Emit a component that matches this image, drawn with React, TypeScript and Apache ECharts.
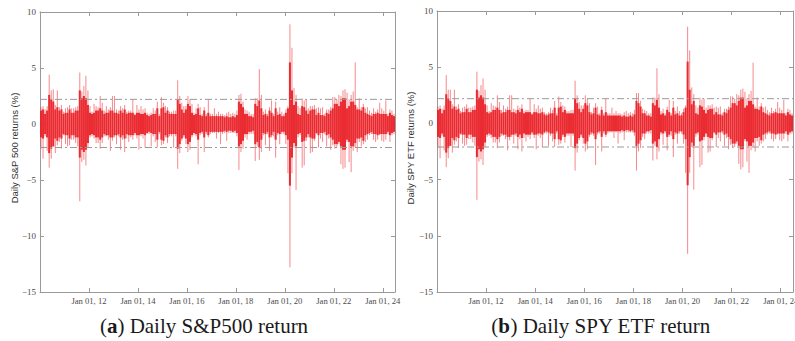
import React, { useEffect, useRef } from "react";
import * as echarts from "echarts";

// Monthly envelope of daily returns (%), Jan 2010 .. Jun 2024
const START_YEAR = 2010;
const END_YEAR = 2024.5;
const xTickInterval = 2;
const yMin = -15;
const yMax = 10;
const yInterval = 5;
const bandUpper = 2.2;
const bandLower = -2.1;

const spxHi = [
  1.5, 1.6, 1.3, 1.6, 4.4, 3.0, 3.1, 1.7, 3.0, 1.5, 1.7, 1.1,
  1.4, 1.5, 1.7, 1.4, 1.4, 1.5, 1.6, 4.6, 2.9, 3.4, 4.3, 3.0,
  1.6, 1.1, 1.8, 1.6, 1.5, 2.5, 1.9, 1.2, 1.6, 1.3, 1.5, 2.5,
  2.5, 1.3, 1.2, 1.6, 1.4, 1.7, 1.1, 1.2, 1.2, 2.2, 0.9, 1.7,
  1.3, 1.6, 1.3, 1.4, 1.0, 0.9, 1.0, 1.4, 1.2, 2.0, 0.9, 2.4,
  1.9, 1.6, 1.5, 1.1, 1.1, 1.2, 1.2, 3.9, 2.5, 1.9, 1.6, 1.6,
  2.5, 2.2, 1.8, 1.0, 1.4, 1.8, 1.5, 0.9, 1.5, 0.9, 2.2, 0.9,
  0.9, 1.4, 0.9, 1.1, 0.9, 0.9, 0.8, 1.0, 1.1, 0.9, 1.0, 0.9,
  1.2, 2.6, 2.7, 2.0, 1.3, 1.2, 1.1, 0.9, 0.9, 2.3, 2.3, 4.9,
  2.6, 1.1, 1.3, 0.9, 1.5, 2.1, 0.9, 2.0, 1.1, 1.5, 1.1, 0.9,
  1.3, 1.6, 8.9, 6.8, 3.2, 2.6, 1.6, 1.4, 2.3, 2.1, 2.2, 1.4,
  1.6, 1.6, 1.7, 1.4, 1.5, 1.4, 1.5, 0.9, 1.3, 1.3, 1.5, 2.4,
  2.4, 2.2, 2.6, 2.5, 3.0, 3.1, 2.8, 2.2, 2.6, 2.9, 5.5, 1.5,
  2.3, 1.5, 1.8, 1.4, 1.5, 1.2, 1.0, 1.4, 1.1, 1.3, 1.9, 1.4,
  1.2, 2.1, 0.9, 1.3, 1.2, 0.9,
];
const spxLo = [
  -2.2, -3.1, -1.1, -2.4, -3.9, -3.1, -2.0, -2.6, -1.9, -1.6, -2.2, -1.0,
  -1.8, -2.0, -1.9, -1.4, -1.4, -1.7, -2.0, -6.9, -3.4, -3.2, -3.7, -2.1,
  -1.2, -1.1, -1.3, -1.7, -1.7, -2.2, -1.7, -1.1, -1.1, -1.4, -2.4, -1.5,
  -1.2, -1.8, -1.1, -2.3, -1.4, -2.5, -1.3, -1.6, -1.2, -1.4, -1.0, -1.3,
  -2.3, -1.1, -1.3, -2.1, -0.9, -0.9, -2.0, -1.1, -1.6, -2.1, -0.9, -1.9,
  -1.8, -1.2, -1.7, -1.1, -1.1, -2.1, -1.1, -4.0, -2.6, -1.5, -1.2, -1.8,
  -2.5, -2.3, -1.2, -1.0, -1.1, -3.6, -1.0, -0.9, -2.5, -0.9, -1.2, -0.9,
  -0.8, -0.8, -1.3, -0.8, -1.8, -0.9, -0.8, -1.5, -0.8, -0.8, -0.8, -0.8,
  -1.1, -4.1, -2.5, -2.2, -1.2, -1.4, -0.9, -0.9, -0.9, -3.3, -2.0, -3.2,
  -2.5, -1.0, -1.9, -0.9, -2.4, -1.2, -1.1, -3.0, -1.0, -1.8, -0.9, -0.9,
  -1.8, -4.4, -12.8, -4.4, -2.1, -5.9, -1.2, -1.0, -3.9, -3.7, -1.5, -1.2,
  -2.6, -2.5, -1.5, -0.9, -2.1, -1.3, -1.6, -0.9, -2.0, -1.3, -2.3, -1.9,
  -2.2, -2.1, -1.8, -3.6, -4.0, -3.9, -1.6, -3.4, -4.3, -2.4, -2.1, -2.5,
  -1.6, -2.0, -1.8, -1.6, -1.4, -1.0, -0.9, -1.4, -1.6, -1.4, -1.0, -1.5,
  -1.6, -1.4, -0.9, -1.6, -1.0, -0.9,
];
const spxCore = [
  1.2, 1.3, 0.9, 1.2, 2.6, 2.2, 2.0, 1.3, 1.5, 1.2, 1.3, 0.9,
  1.0, 1.0, 1.3, 1.0, 1.0, 1.2, 1.2, 3.0, 2.3, 2.5, 2.3, 1.7,
  1.0, 0.9, 1.0, 1.2, 1.2, 1.4, 1.2, 0.9, 1.0, 1.0, 1.2, 1.2,
  1.0, 1.0, 0.9, 1.2, 1.0, 1.3, 0.9, 1.0, 1.0, 1.0, 0.8, 1.0,
  1.0, 0.9, 0.9, 1.0, 0.8, 0.7, 0.8, 0.9, 0.9, 1.4, 0.7, 1.4,
  1.5, 1.0, 1.2, 0.9, 0.9, 0.9, 0.9, 2.2, 1.8, 1.3, 1.0, 1.3,
  1.8, 1.6, 1.0, 0.8, 0.9, 1.4, 0.8, 0.7, 1.2, 0.7, 1.0, 0.7,
  0.7, 0.7, 0.7, 0.7, 0.7, 0.7, 0.6, 0.7, 0.6, 0.6, 0.7, 0.6,
  0.8, 2.0, 1.8, 1.5, 0.9, 0.9, 0.7, 0.7, 0.6, 1.8, 1.6, 2.1,
  1.4, 0.8, 0.9, 0.7, 1.2, 1.0, 0.7, 1.4, 0.8, 0.9, 0.7, 0.7,
  1.0, 1.4, 5.5, 3.0, 1.7, 2.0, 0.9, 0.8, 1.6, 1.5, 1.2, 0.9,
  1.2, 1.3, 1.3, 0.8, 1.0, 0.8, 0.8, 0.7, 1.0, 0.9, 1.2, 1.4,
  1.8, 1.8, 1.6, 2.0, 2.3, 2.3, 1.4, 1.6, 2.0, 2.0, 1.7, 1.3,
  1.3, 1.2, 1.5, 1.0, 0.9, 0.8, 0.7, 0.9, 0.9, 1.0, 0.9, 0.9,
  0.9, 0.9, 0.7, 1.0, 0.8, 0.7,
];

const spyHi = [
  1.5, 1.6, 1.3, 1.6, 4.3, 3.0, 3.0, 1.7, 3.0, 1.5, 1.7, 1.1,
  1.4, 1.5, 1.7, 1.4, 1.4, 1.5, 1.6, 4.6, 2.9, 3.4, 4.0, 3.0,
  1.6, 1.1, 1.8, 1.6, 1.5, 2.5, 1.9, 1.2, 1.6, 1.3, 1.5, 2.5,
  2.5, 1.3, 1.2, 1.6, 1.4, 1.7, 1.1, 1.2, 1.2, 2.2, 0.9, 1.7,
  1.3, 1.6, 1.3, 1.4, 1.0, 0.9, 1.0, 1.4, 1.2, 2.0, 0.9, 2.4,
  1.9, 1.6, 1.5, 1.1, 1.1, 1.2, 1.2, 3.8, 2.5, 1.9, 1.6, 1.6,
  2.5, 2.2, 1.8, 1.0, 1.4, 1.8, 1.5, 0.9, 1.5, 0.9, 2.2, 0.9,
  0.9, 1.4, 0.9, 1.1, 0.9, 0.9, 0.8, 1.0, 1.1, 0.9, 1.0, 0.9,
  1.2, 2.7, 2.7, 2.0, 1.3, 1.2, 1.1, 0.9, 0.9, 2.3, 2.3, 4.9,
  2.6, 1.1, 1.3, 0.9, 1.5, 2.1, 0.9, 2.0, 1.1, 1.5, 1.1, 0.9,
  1.3, 1.6, 8.6, 6.5, 3.2, 2.6, 1.6, 1.4, 2.3, 2.1, 2.2, 1.4,
  1.6, 1.6, 1.7, 1.4, 1.5, 1.4, 1.5, 0.9, 1.3, 1.3, 1.5, 2.4,
  2.4, 2.2, 2.6, 2.5, 3.0, 3.1, 2.8, 2.2, 2.6, 2.9, 5.4, 1.5,
  2.3, 1.5, 1.8, 1.4, 1.5, 1.2, 1.0, 1.4, 1.1, 1.3, 1.9, 1.4,
  1.2, 2.1, 0.9, 1.3, 1.2, 0.9,
];
const spyLo = [
  -2.2, -3.1, -1.1, -2.4, -3.9, -3.1, -2.0, -2.6, -1.9, -1.6, -2.2, -1.0,
  -1.8, -2.0, -1.9, -1.4, -1.4, -1.7, -2.0, -6.8, -3.4, -3.2, -3.7, -2.1,
  -1.2, -1.1, -1.3, -1.7, -1.7, -2.2, -1.7, -1.1, -1.1, -1.4, -2.4, -1.5,
  -1.2, -1.8, -1.1, -2.3, -1.4, -2.5, -1.3, -1.6, -1.2, -1.4, -1.0, -1.3,
  -2.3, -1.1, -1.3, -2.1, -0.9, -0.9, -2.0, -1.1, -1.6, -2.1, -0.9, -1.9,
  -1.8, -1.2, -1.7, -1.1, -1.1, -2.1, -1.1, -4.2, -2.6, -1.5, -1.2, -1.8,
  -2.5, -2.3, -1.2, -1.0, -1.1, -3.7, -1.0, -0.9, -2.5, -0.9, -1.2, -0.9,
  -0.8, -0.8, -1.3, -0.8, -1.8, -0.9, -0.8, -1.5, -0.8, -0.8, -0.8, -0.8,
  -1.1, -4.2, -2.5, -2.2, -1.2, -1.4, -0.9, -0.9, -0.9, -3.3, -2.0, -3.2,
  -2.5, -1.0, -1.9, -0.9, -2.4, -1.2, -1.1, -3.0, -1.0, -1.8, -0.9, -0.9,
  -1.8, -4.4, -11.6, -4.4, -2.1, -5.9, -1.2, -1.0, -3.9, -3.7, -1.5, -1.2,
  -2.6, -2.5, -1.5, -0.9, -2.1, -1.3, -1.6, -0.9, -2.0, -1.3, -2.3, -1.9,
  -2.2, -2.1, -1.8, -3.6, -4.1, -3.9, -1.6, -3.4, -4.4, -2.4, -2.1, -2.5,
  -1.6, -2.0, -1.8, -1.6, -1.4, -1.0, -0.9, -1.4, -1.6, -1.4, -1.0, -1.5,
  -1.6, -1.4, -0.9, -1.6, -1.0, -0.9,
];
const spyCore = [
  1.2, 1.3, 0.9, 1.2, 2.6, 2.2, 2.0, 1.3, 1.5, 1.2, 1.3, 0.9,
  1.0, 1.0, 1.3, 1.0, 1.0, 1.2, 1.2, 3.0, 2.3, 2.5, 2.3, 1.7,
  1.0, 0.9, 1.0, 1.2, 1.2, 1.4, 1.2, 0.9, 1.0, 1.0, 1.2, 1.2,
  1.0, 1.0, 0.9, 1.2, 1.0, 1.3, 0.9, 1.0, 1.0, 1.0, 0.8, 1.0,
  1.0, 0.9, 0.9, 1.0, 0.8, 0.7, 0.8, 0.9, 0.9, 1.4, 0.7, 1.4,
  1.5, 1.0, 1.2, 0.9, 0.9, 0.9, 0.9, 2.2, 1.8, 1.3, 1.0, 1.3,
  1.8, 1.6, 1.0, 0.8, 0.9, 1.4, 0.8, 0.7, 1.2, 0.7, 1.0, 0.7,
  0.7, 0.7, 0.7, 0.7, 0.7, 0.7, 0.6, 0.7, 0.6, 0.6, 0.7, 0.6,
  0.8, 2.0, 1.8, 1.5, 0.9, 0.9, 0.7, 0.7, 0.6, 1.8, 1.6, 2.1,
  1.4, 0.8, 0.9, 0.7, 1.2, 1.0, 0.7, 1.4, 0.8, 0.9, 0.7, 0.7,
  1.0, 1.4, 5.5, 3.0, 1.7, 2.0, 0.9, 0.8, 1.6, 1.5, 1.2, 0.9,
  1.2, 1.3, 1.3, 0.8, 1.0, 0.8, 0.8, 0.7, 1.0, 0.9, 1.2, 1.4,
  1.8, 1.8, 1.6, 2.0, 2.3, 2.3, 1.4, 1.6, 2.0, 2.0, 1.7, 1.3,
  1.3, 1.2, 1.5, 1.0, 0.9, 0.8, 0.7, 0.9, 0.9, 1.0, 0.9, 0.9,
  0.9, 0.9, 0.7, 1.0, 0.8, 0.7,
];

const yAxisNames = ["Daily S&P 500 returns (%)", "Daily SPY ETF returns (%)"];
const captionLetters = ["a", "b"];
const captionTexts = [" Daily S&P500 return", " Daily SPY ETF return"];

const AXIS_COLOR = "#9a9a9a";
const LABEL_COLOR = "#4a4a4a";
const TICK_FONT = "'Liberation Serif', 'Times New Roman', serif";

function buildData(hi: number[], lo: number[], core: number[]) {
  return hi.map((h, i) => [START_YEAR + (i + 0.5) / 12, lo[i], h, core[i]]);
}

function renderItem(params: any, api: any) {
  const x = api.value(0);
  const lo = api.value(1);
  const hi = api.value(2);
  const c = api.value(3);
  const pHi = api.coord([x, hi]);
  const pLo = api.coord([x, lo]);
  const top = api.coord([x, Math.min(c, hi)]);
  const bot = api.coord([x, Math.max(-c, lo)]);
  const w = api.size([1 / 12, 0])[0];
  return {
    type: "group",
    children: [
      {
        type: "line",
        shape: { x1: pHi[0], y1: pHi[1], x2: pLo[0], y2: pLo[1] },
        style: { stroke: "rgba(236,40,46,0.55)", lineWidth: 1, fill: "none" },
      },
      {
        type: "rect",
        shape: { x: pHi[0] - w / 2, y: top[1], width: w, height: bot[1] - top[1] },
        style: { fill: "rgba(233,36,42,0.95)" },
      },
    ],
  };
}

export default function App() {
  const ref = useRef<HTMLDivElement>(null);
  useEffect(() => {
    if (!ref.current) return;
    const chart = echarts.init(ref.current, undefined, { renderer: "svg" });
    const grids = [
      { left: 40, top: 12, width: 355, height: 280 },
      { left: 437, top: 11, width: 356, height: 281 },
    ];
    const xAxes: any[] = [];
    const yAxes: any[] = [];
    grids.forEach((_, g) => {
      ["bottom", "top"].forEach((pos) => {
        xAxes.push({
          type: "value",
          gridIndex: g,
          position: pos,
          min: START_YEAR,
          max: END_YEAR,
          interval: xTickInterval,
          axisLine: { show: true, onZero: false, lineStyle: { color: AXIS_COLOR, width: 1 } },
          axisTick: { show: true, inside: true, length: 4, lineStyle: { color: AXIS_COLOR } },
          axisLabel: {
            show: pos === "bottom",
            showMinLabel: false,
            showMaxLabel: false,
            margin: 4,
            fontFamily: TICK_FONT,
            fontSize: 8.6,
            color: LABEL_COLOR,
            formatter: (v: number) =>
              Number.isInteger(v) && v % 2 === 0 ? "Jan 01, " + String(v).slice(2) : "",
          },
          splitLine: { show: false },
        });
      });
      ["left", "right"].forEach((pos) => {
        yAxes.push({
          type: "value",
          gridIndex: g,
          position: pos,
          min: yMin,
          max: yMax,
          interval: yInterval,
          axisLine: { show: true, onZero: false, lineStyle: { color: AXIS_COLOR, width: 1 } },
          axisTick: { show: true, inside: true, length: 4, lineStyle: { color: AXIS_COLOR } },
          axisLabel: {
            show: pos === "left",
            margin: 4,
            fontFamily: TICK_FONT,
            fontSize: 9,
            color: LABEL_COLOR,
            formatter: (v: number) => String(v).replace("-", "\u2212"),
          },
          splitLine: { show: false },
        });
      });
    });

    const panels = [
      buildData(spxHi, spxLo, spxCore),
      buildData(spyHi, spyLo, spyCore),
    ];
    const series: any[] = [];
    panels.forEach((data, g) => {
      series.push({
        type: "custom",
        xAxisIndex: g * 2,
        yAxisIndex: g * 2,
        renderItem,
        clip: true,
        data,
        silent: true,
      });
      [bandUpper, bandLower].forEach((b) => {
        series.push({
          type: "line",
          xAxisIndex: g * 2,
          yAxisIndex: g * 2,
          data: [
            [START_YEAR, b],
            [END_YEAR, b],
          ],
          symbol: "none",
          silent: true,
          z: 5,
          lineStyle: { color: "#9a9a9a", width: 1, type: [7, 3, 2, 3] },
        });
      });
    });

    const graphic: any[] = [];
    const nameX = [14.5, 410.5];
    const capX = [204, 601];
    [0, 1].forEach((g) => {
      graphic.push({
        type: "text",
        x: nameX[g],
        y: 148,
        rotation: Math.PI / 2,
        style: {
          text: yAxisNames[g],
          fill: "#333",
          font: "9.5px 'Liberation Sans', Arial, sans-serif",
          textAlign: "center",
          textVerticalAlign: "middle",
          align: "center",
          verticalAlign: "middle",
        },
      });
      graphic.push({
        type: "text",
        x: capX[g],
        y: 326,
        style: {
          text: "({b|" + captionLetters[g] + "})" + captionTexts[g],
          fill: "#1a1a1a",
          font: "21px 'Liberation Serif', 'Times New Roman', serif",
          textAlign: "center",
          textVerticalAlign: "middle",
          align: "center",
          verticalAlign: "middle",
          rich: {
            b: {
              fontWeight: "bold",
              fontSize: 21,
              fontFamily: "'Liberation Serif', 'Times New Roman', serif",
              fill: "#1a1a1a",
            },
          },
        },
      });
    });

    chart.setOption({
      animation: false,
      backgroundColor: "#ffffff",
      grid: grids.map((g) => ({ ...g, containLabel: false, outerBoundsMode: "none" })),
      xAxis: xAxes,
      yAxis: yAxes,
      series,
      graphic,
    });
    return () => chart.dispose();
  }, []);
  return (
    <div
      ref={ref}
      style={{ position: "absolute", left: 0, top: 0, width: 795, height: 341 }}
    />
  );
}
